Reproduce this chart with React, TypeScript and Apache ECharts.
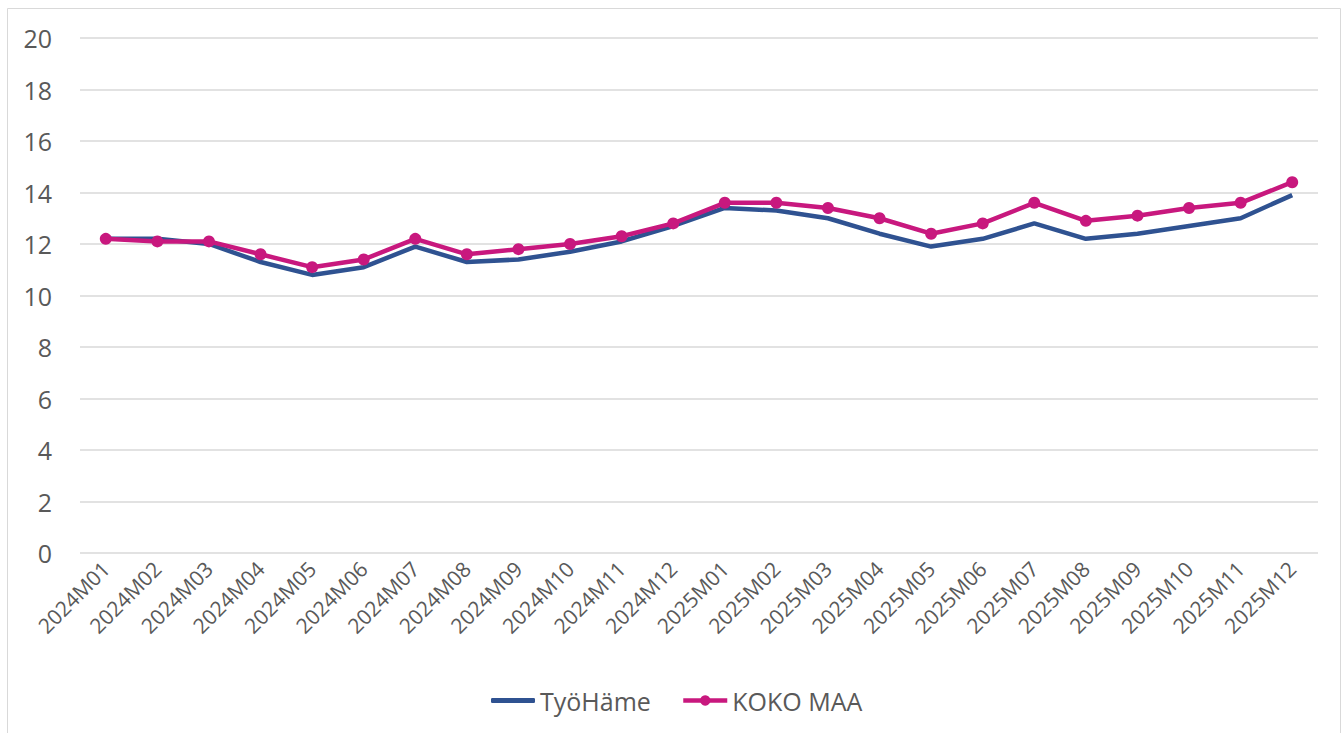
import React, { useEffect, useRef } from "react";
import * as echarts from "echarts";

const categories = [
  "2024M01", "2024M02", "2024M03", "2024M04", "2024M05", "2024M06",
  "2024M07", "2024M08", "2024M09", "2024M10", "2024M11", "2024M12",
  "2025M01", "2025M02", "2025M03", "2025M04", "2025M05", "2025M06",
  "2025M07", "2025M08", "2025M09", "2025M10", "2025M11", "2025M12",
];

const tyoHame = [
  12.2, 12.2, 12.0, 11.3, 10.8, 11.1, 11.9, 11.3, 11.4, 11.7, 12.1, 12.7,
  13.4, 13.3, 13.0, 12.4, 11.9, 12.2, 12.8, 12.2, 12.4, 12.7, 13.0, 13.9,
];

const kokoMaa = [
  12.2, 12.1, 12.1, 11.6, 11.1, 11.4, 12.2, 11.6, 11.8, 12.0, 12.3, 12.8,
  13.6, 13.6, 13.4, 13.0, 12.4, 12.8, 13.6, 12.9, 13.1, 13.4, 13.6, 14.4,
];

const seriesNames = ["TyöHäme", "KOKO MAA"];

const FONT = "'Open Sans', 'Noto Sans', sans-serif";
const TEXT_COLOR = "#595959";
const BLUE = "#2F5291";
const PINK = "#C8187E";

export default function App() {
  const ref = useRef<HTMLDivElement>(null);

  useEffect(() => {
    if (!ref.current) return;
    const chart = echarts.init(ref.current, undefined, { renderer: "svg" });
    const legendText = { fontFamily: FONT, fontSize: 25, color: TEXT_COLOR };
    chart.setOption({
      animation: false,
      backgroundColor: "#ffffff",
      textStyle: { fontFamily: FONT },
      graphic: [
        {
          type: "rect",
          shape: { x: 7.5, y: 8.5, width: 1333, height: 740 },
          style: { fill: "none", stroke: "#d9d9d9", lineWidth: 1 },
          silent: true,
        },
      ],
      grid: { left: 80, right: 25, top: 38, bottom: 180 },
      legend: [
        {
          left: 486,
          top: 683,
          itemWidth: 44,
          itemHeight: 5,
          icon: "roundRect",
          itemGap: 4,
          data: [seriesNames[0]],
          textStyle: legendText,
        },
        {
          left: 676,
          top: 683,
          itemWidth: 44,
          itemHeight: 13,
          itemGap: 4,
          data: [seriesNames[1]],
          lineStyle: { width: 4.5 },
          textStyle: legendText,
        },
      ],
      xAxis: {
        type: "category",
        data: categories,
        boundaryGap: true,
        axisLine: { show: false },
        axisTick: { show: false },
        axisLabel: {
          rotate: 45,
          interval: 0,
          margin: 12,
          fontFamily: FONT,
          fontSize: 21,
          color: TEXT_COLOR,
        },
      },
      yAxis: {
        type: "value",
        min: 0,
        max: 20,
        interval: 2,
        axisLine: { show: false },
        axisTick: { show: false },
        axisLabel: {
          margin: 28,
          fontFamily: FONT,
          fontSize: 25,
          color: TEXT_COLOR,
        },
        splitLine: { lineStyle: { color: "#d9d9d9", width: 1.5 } },
      },
      series: [
        {
          name: seriesNames[0],
          type: "line",
          data: tyoHame,
          symbol: "none",
          lineStyle: { color: BLUE, width: 4.5 },
          itemStyle: { color: BLUE },
          z: 2,
        },
        {
          name: seriesNames[1],
          type: "line",
          data: kokoMaa,
          symbol: "circle",
          symbolSize: 12,
          lineStyle: { color: PINK, width: 4.5 },
          itemStyle: { color: PINK },
          z: 3,
        },
      ],
    });
    return () => chart.dispose();
  }, []);

  return (
    <div
      ref={ref}
      style={{ position: "fixed", left: 0, top: 0, width: 1343, height: 733 }}
    />
  );
}
